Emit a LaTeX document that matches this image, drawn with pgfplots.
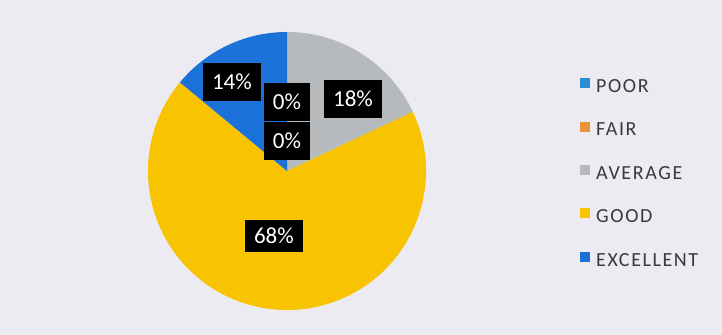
\documentclass[border=0pt]{standalone}
\usepackage{pgfplots}
\usepackage{pgfplotstable}
\pgfplotsset{compat=1.18}
\usepackage{fontspec}
\setmainfont{Carlito}

\definecolor{bgcol}{HTML}{ECEBF1}
\definecolor{cpoor}{HTML}{2A8ED2}
\definecolor{cfair}{HTML}{E8953A}
\definecolor{caverage}{HTML}{B6BABC}
\definecolor{cgood}{HTML}{F8C300}
\definecolor{cexcellent}{HTML}{1A72D8}
\definecolor{legtext}{HTML}{38383F}

% share of answers, clockwise from 12 o'clock
\pgfplotstableread{
label value color
POOR 0 cpoor
FAIR 0 cfair
AVERAGE 18 caverage
GOOD 68 cgood
EXCELLENT 14 cexcellent
}\piedata

\begin{document}
\begin{tikzpicture}[
  lbl/.style={fill=black, text=white, inner xsep=4.5pt, inner ysep=0pt,
    minimum height=19pt, font=\fontsize{11.5}{13}\selectfont},
]
\fill[bgcol] (0,0) rectangle (361pt,167.5pt);
\useasboundingbox (0,0) rectangle (361pt,167.5pt);

\begin{axis}[
  at={(143.5pt,82pt)}, anchor=origin,
  scale only axis, width=139pt, height=139pt,
  xmin=-1, xmax=1, ymin=-1, ymax=1,
  enlargelimits=false, hide axis,
  legend image code/.code={\fill[#1] (0pt,-1.0pt) rectangle (4.5pt,3.5pt);},
  legend style={draw=none, fill=none, inner sep=0pt,
    at={(rel axis cs:1.554,0.496)}, anchor=west,
    font=\fontsize{10}{12}\selectfont\addfontfeatures{LetterSpace=8},
    text=legtext, row sep=14.5pt, column sep=3pt,
    nodes={inner sep=0pt, text height=7pt, text depth=0pt}},
  legend cell align=left,
]
\pgfplotsextra{
  \pgfplotstablegetrowsof{\piedata}
  \pgfmathtruncatemacro\lastrow{\pgfplotsretval-1}
  \xdef\startangle{90}
  \foreach \i in {0,...,\lastrow}{
    \pgfplotstablegetelem{\i}{value}\of\piedata
    \let\val\pgfplotsretval
    \pgfplotstablegetelem{\i}{color}\of\piedata
    \let\col\pgfplotsretval
    \pgfmathsetmacro\endangle{\startangle-3.6*\val}
    \ifdim\val pt>0pt
      \fill[\col] (axis cs:0,0) -- ++(\startangle:69.5pt)
        arc[start angle=\startangle, end angle=\endangle, radius=69.5pt] -- cycle;
    \fi
    \xdef\startangle{\endangle}
  }
}

\addlegendimage{cpoor}\addlegendentry{POOR}
\addlegendimage{cfair}\addlegendentry{FAIR}
\addlegendimage{caverage}\addlegendentry{AVERAGE}
\addlegendimage{cgood}\addlegendentry{GOOD}
\addlegendimage{cexcellent}\addlegendentry{EXCELLENT}

\node[lbl] at (axis cs:-0.396,0.640) {14\%};
\node[lbl] at (axis cs:0,0.496) {0\%};
\node[lbl] at (axis cs:0,0.216) {0\%};
\node[lbl] at (axis cs:0.475,0.518) {18\%};
\node[lbl, minimum height=16pt] at (axis cs:-0.094,-0.468) {68\%};
\end{axis}
\end{tikzpicture}
\end{document}
